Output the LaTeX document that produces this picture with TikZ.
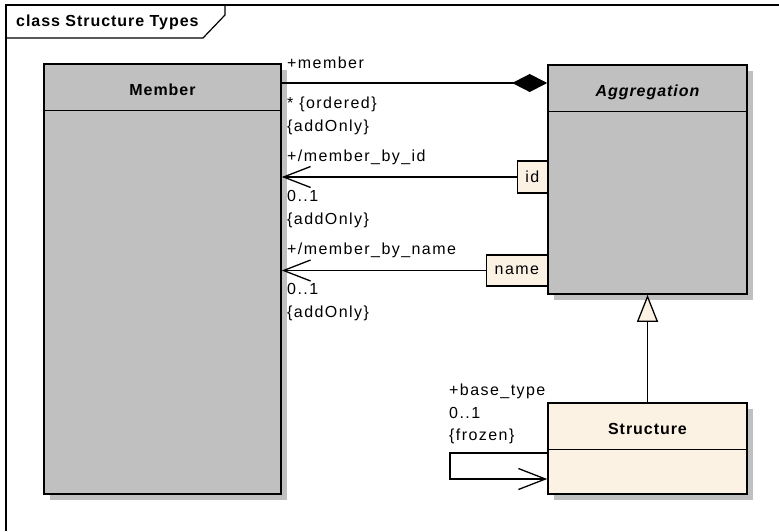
\documentclass[tikz,border=0pt]{standalone}
\usepackage{fontspec}
\setmainfont{Liberation Sans}[LetterSpace=9, BoldFeatures={LetterSpace=6},
    BoldItalicFeatures={LetterSpace=6}]
\usepackage{tikz}
\definecolor{Clsgray}{RGB}{192,192,192}
\definecolor{Clsbeige}{RGB}{252,242,228}
\definecolor{Clsshade}{RGB}{192,192,192}
\usetikzlibrary{shadows, positioning, arrows.meta}

\begin{document}
\begin{tikzpicture}[x=1pt, y=-1pt, font=\fontsize{16}{23}\selectfont,
    clsbox/.style={draw, line width=1.6pt, inner sep=0,
                   copy shadow={fill=Clsshade, draw=none,
                   shadow xshift=6pt, shadow yshift=-6pt}},
    clstitle/.style={inner sep=0, minimum height=47, text height=17, text depth=0},
    qualbox/.style={draw, fill=Clsbeige, line width=1.3pt, inner sep=0, anchor=east},
    conn/.style={line width=1.3pt},
    navarrow/.style={conn, -{Straight Barb[length=27pt, width=21pt]}},
    lbl/.style={anchor=north west, inner sep=0, align=left}]
    \useasboundingbox (0,0) rectangle (779,531);

    % frame
    \draw [line width=1.2pt] (779,5) -- (6,5) -- (6,531);
    \draw [line width=1.2pt] (6,38) -- (203,38) -- (225,15) -- (225,5);
    \node (frame-title) [lbl] at (16,15) {\bf class Structure Types};

    % classes
    \node (member) [clsbox, fill=Clsgray, minimum width=237, minimum height=430]
          at (162.5,279) {};
    \node (member-name) [clstitle, below=0pt of member.north] {\bf Member};
    \draw [line width=1.6pt] (member-name.south -| member.west)
          -- (member-name.south -| member.east);

    \node (aggregation) [clsbox, fill=Clsgray, minimum width=199, minimum height=229]
          at (647.5,179.5) {};
    \node (aggregation-name) [clstitle, below=0pt of aggregation.north]
          {\bfseries\itshape Aggregation};
    \draw [line width=1.6pt] (aggregation-name.south -| aggregation.west)
          -- (aggregation-name.south -| aggregation.east);

    \node (structure) [clsbox, fill=Clsbeige, minimum width=199, minimum height=91]
          at (647.5,448.5) {};
    \node (structure-name) [clstitle, below=0pt of structure.north] {\bf Structure};
    \draw [line width=1.6pt] (structure-name.south -| structure.west)
          -- (structure-name.south -| structure.east);

    % qualifiers
    \node (id) [qualbox, minimum width=30, minimum height=32] at (548,177) {id};
    \node (name) [qualbox, minimum width=61, minimum height=31] at (548,270.5) {name};

    % associations
    \coordinate (comp) at (0,83);
    \draw [conn, -{Diamond[length=35pt, width=18pt]}] (member.east |- comp)
          -- (aggregation.west |- comp);
    \draw [navarrow] (id.west) -- (member.east |- id.west);
    \draw [navarrow] (name.west) -- (member.east |- name.west);
    \draw [conn, -{Triangle[open, length=27pt, width=21pt, fill=Clsbeige]}]
          (structure.north) -- (aggregation.south);
    \coordinate (self-top) at (450,453);
    \coordinate (self-bottom) at (450,479);
    \draw [navarrow] (structure.west |- self-top) -- (self-top) -- (self-bottom)
          -- (structure.west |- self-bottom);

    % role labels
    \node (member-role) [lbl] at (287,57) {+member};
    \node (member-mult) [lbl] at (287,97) {* \{ordered\}\\\{addOnly\}};
    \node (byid-role) [lbl] at (287,150) {+/member\_by\_id};
    \node (byid-mult) [lbl] at (287,190) {0..1\\\{addOnly\}};
    \node (byname-role) [lbl] at (287,243) {+/member\_by\_name};
    \node (byname-mult) [lbl] at (287,283) {0..1\\\{addOnly\}};
    \node (basetype-role) [lbl, font=\fontsize{16}{22.5}\selectfont] at (449,384)
          {+base\_type\\0..1\\\{frozen\}};
\end{tikzpicture}
\end{document}
